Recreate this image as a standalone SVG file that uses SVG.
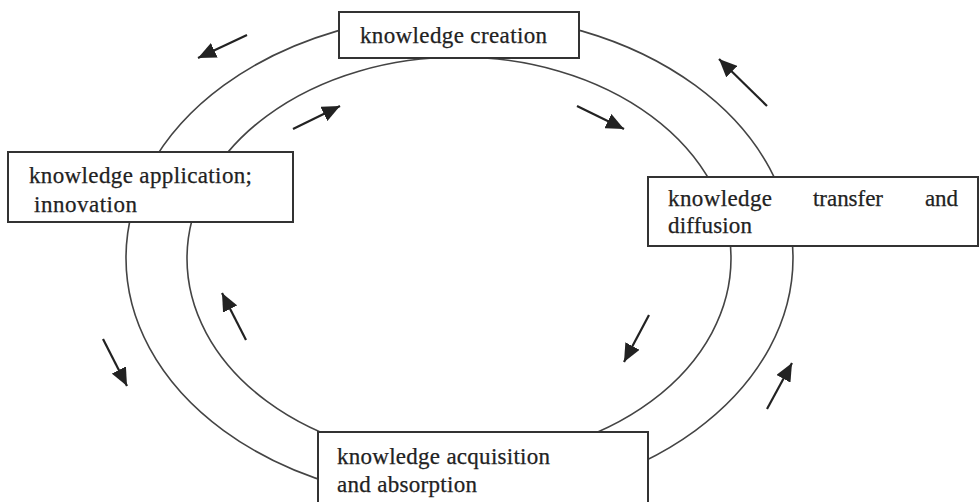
<svg xmlns="http://www.w3.org/2000/svg" width="979" height="502" viewBox="0 0 979 502">
<style>
.ring{fill:none;stroke:#444;stroke-width:1.6}
.box{fill:#fff;stroke:#333;stroke-width:2}
.t{font-family:"Liberation Serif","Times New Roman",serif;font-size:23px;fill:#222;stroke:#222;stroke-width:0.25}
.arr{stroke:#222;stroke-width:2.2;fill:none;marker-end:url(#ah)}
</style>
<defs>
<marker id="ah" markerUnits="userSpaceOnUse" markerWidth="20" markerHeight="16" refX="18" refY="8" orient="auto">
<path d="M0,0 L18,8 L0,16 z" fill="#222"/>
</marker>
</defs>
<rect width="979" height="502" fill="#fff"/>
<g id="connectors">
<ellipse class="ring" cx="459.5" cy="258" rx="333.5" ry="244"/>
<ellipse class="ring" cx="459" cy="258.6" rx="272" ry="201.6"/>
<line class="arr" x1="247" y1="35" x2="198" y2="58"/>
<line class="arr" x1="293" y1="129" x2="340" y2="106"/>
<line class="arr" x1="577" y1="106" x2="624" y2="129"/>
<line class="arr" x1="767" y1="106" x2="719" y2="59"/>
<line class="arr" x1="103" y1="339" x2="127" y2="386"/>
<line class="arr" x1="246" y1="340" x2="222" y2="293"/>
<line class="arr" x1="649" y1="315" x2="624" y2="362"/>
<line class="arr" x1="767" y1="409" x2="792" y2="363"/>
</g>
<g id="creation">
<rect class="box" x="339" y="12" width="240" height="46"/>
<text class="t" x="360" y="43" textLength="187" lengthAdjust="spacing">knowledge creation</text>
</g>
<g id="application">
<rect class="box" x="8" y="152" width="285" height="70"/>
<text class="t" x="29" y="183" textLength="223" lengthAdjust="spacing">knowledge application;</text>
<text class="t" x="34" y="212" textLength="103" lengthAdjust="spacing">innovation</text>
</g>
<g id="transfer">
<rect class="box" x="648" y="177" width="330" height="69"/>
<text class="t" x="668" y="206" textLength="104" lengthAdjust="spacing">knowledge</text>
<text class="t" x="813" y="206" textLength="70" lengthAdjust="spacing">transfer</text>
<text class="t" x="925" y="206" textLength="33" lengthAdjust="spacing">and</text>
<text class="t" x="668" y="233" textLength="84" lengthAdjust="spacing">diffusion</text>
</g>
<g id="acquisition">
<rect class="box" x="318" y="432" width="330" height="76"/>
<text class="t" x="337" y="464" textLength="213" lengthAdjust="spacing">knowledge acquisition</text>
<text class="t" x="337" y="492" textLength="140" lengthAdjust="spacing">and absorption</text>
</g>
</svg>
